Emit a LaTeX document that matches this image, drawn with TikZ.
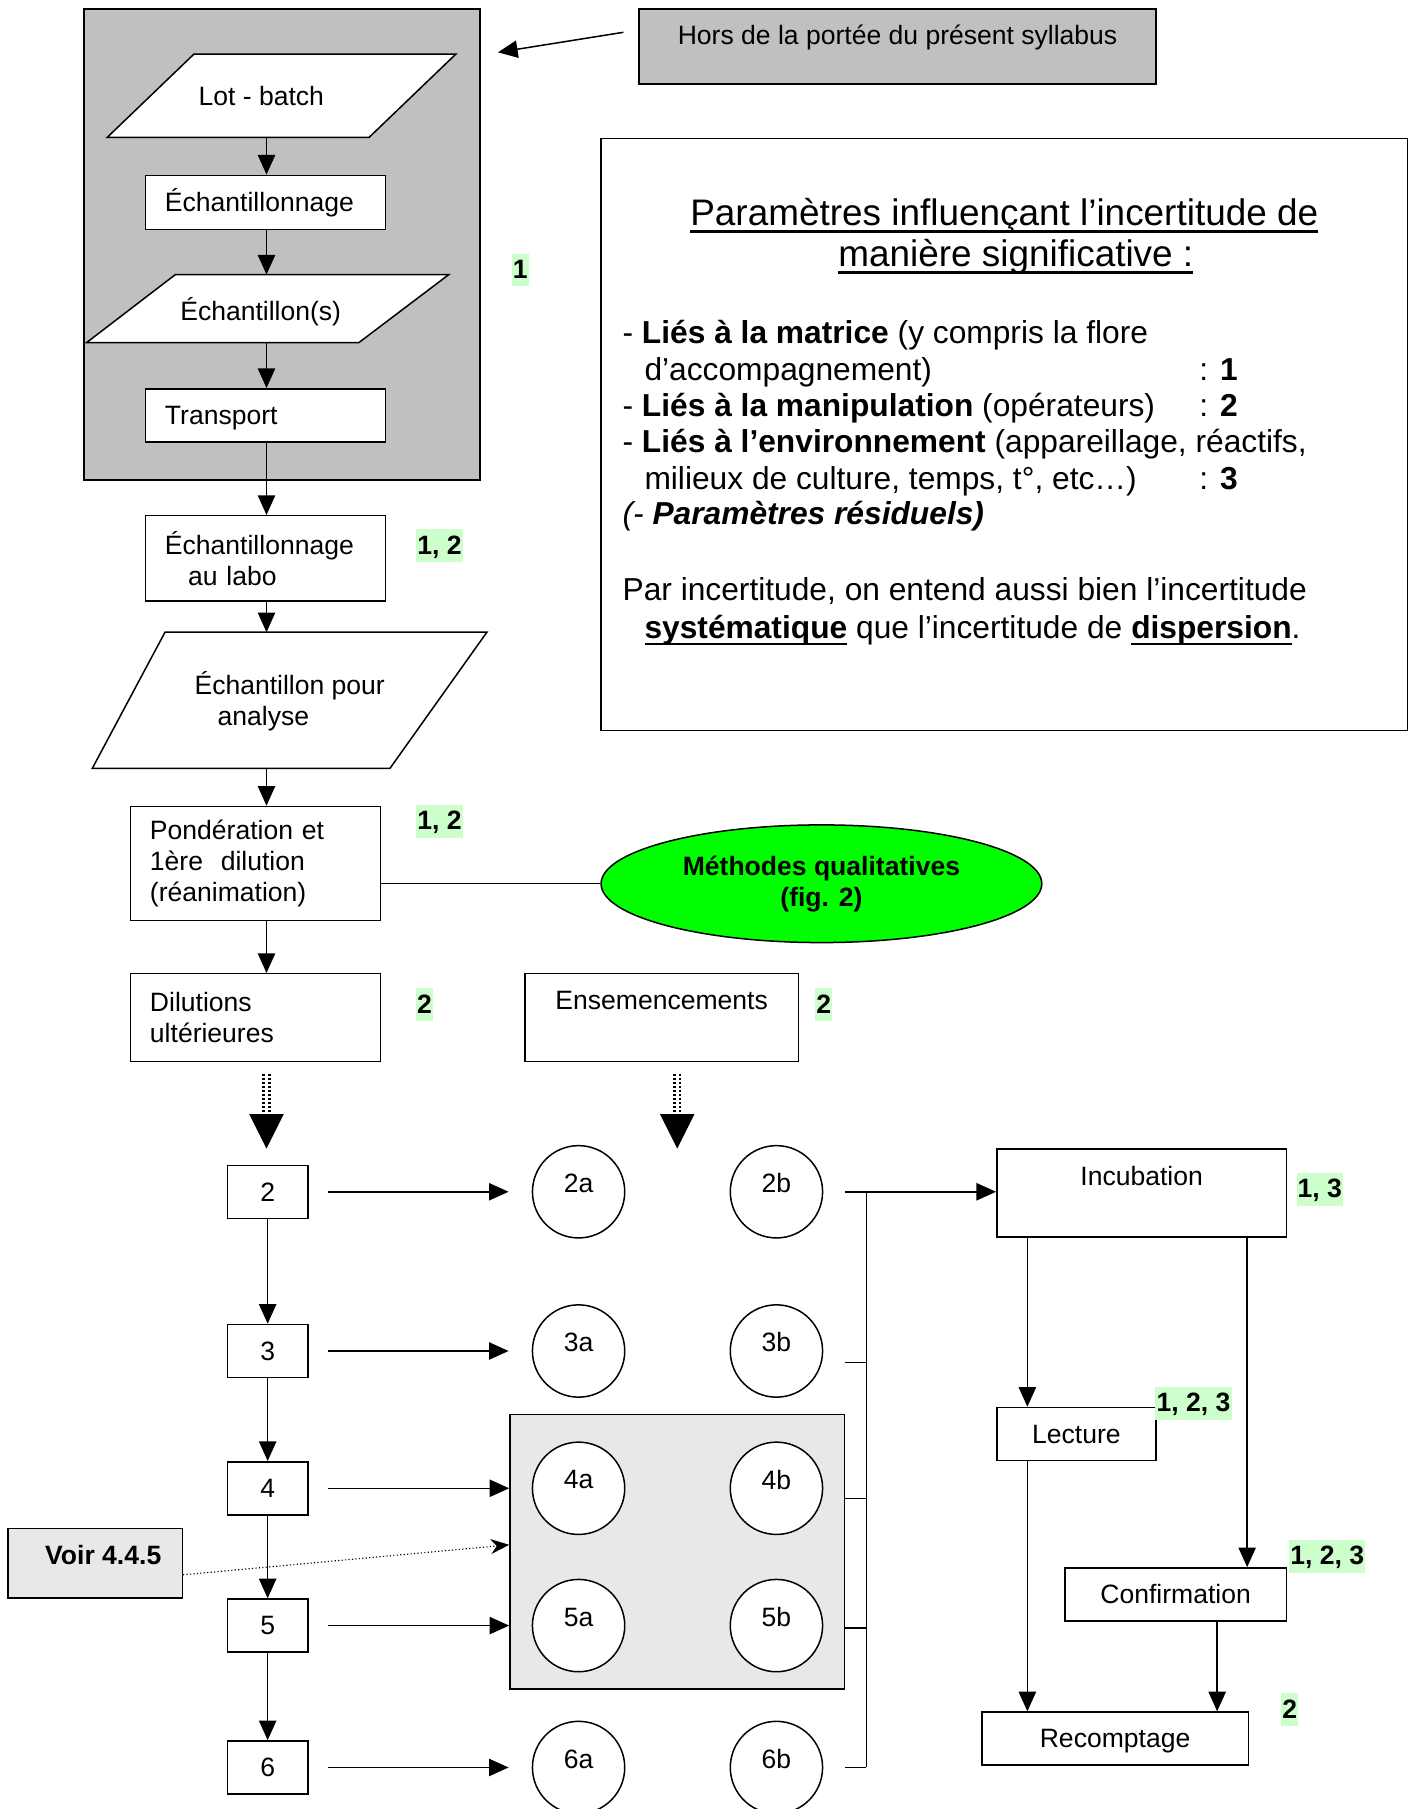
\documentclass[tikz,border=0pt]{standalone}
\usepackage{fontspec}
\setmainfont{Liberation Sans}
\usetikzlibrary{arrows.meta,shapes.geometric,calc}
\newcommand\fn{\fontsize{23}{27}\selectfont}
\newcommand\fb{\fontsize{27.5}{32}\selectfont}
\newcommand\ftt{\fontsize{32}{36}\selectfont}
\newcommand\myul[1]{\leavevmode\setbox0\hbox{#1}\rlap{\rule[-0.19em]{\wd0}{0.06em}}\box0\relax}
\definecolor{midgray}{HTML}{C0C0C0}
\definecolor{palegray}{HTML}{E8E8E8}
\definecolor{lgreen}{HTML}{CCFFCC}
\definecolor{brightgreen}{HTML}{00FF00}
\begin{document}
\begin{tikzpicture}[x=1pt,y=-1pt,line width=1.3pt,
  box/.style={draw,fill=white,inner xsep=17pt,inner ysep=0pt,align=left,font=\fn},
  cbox/.style={draw,fill=white,inner sep=0pt,align=center,font=\fn},
  topbox/.style={draw,inner sep=0pt,font=\fn,text height=17pt,text depth=30.5pt},
  para/.style={draw,fill=white,line join=miter},
  txt/.style={inner sep=0pt,font=\fn,align=left},
  lab/.style={fill=lgreen,font=\fn\bfseries,inner xsep=1pt,inner ysep=0pt,text height=21.5pt,text depth=7pt},
  circ/.style={circle,draw,fill=white,minimum size=80pt,inner sep=0pt,font=\fn,text depth=15pt},
  arr/.style={-{Triangle[length=17pt,width=15pt]}},
  tl/.style={anchor=base west,inner sep=0pt,font=\fb},
  dotcol/.style={line width=2.3pt,dash pattern=on 2pt off 1.5pt},
  ln/.style={line width=1.3pt}]
\useasboundingbox (0,0) rectangle (1222,1568);

% axes
\coordinate (ax1) at (231,0);
\coordinate (ax2) at (587,0);
\coordinate (lx) at (890.5,0);
\coordinate (rx) at (1081,0);
\coordinate (cx) at (1055,0);
\coordinate (bx) at (751,0);

% outer gray block
\node[draw,fill=midgray,minimum width=343pt,minimum height=408pt,inner sep=0pt] (outer) at (244.5,212) {};

% Hors box
\node[topbox,fill=midgray,minimum width=448pt,minimum height=65pt,text depth=21.5pt] (hors) at (778,40.5) {Hors de la portée du présent syllabus};
\coordinate (horstip) at ([xshift=15pt,yshift=-38pt]outer.north east);
\draw[arr] ([xshift=-13pt,yshift=12.5pt]hors.west) -- (horstip);

% Lot - batch
\draw[para] (168,47) -- (395,47) -- (320,119) -- (93,119) -- cycle;
\node[txt] (lot) at (226.5,83) {Lot - batch};
\coordinate (lotS) at (231,119);

\node[box,minimum width=208pt,minimum height=47pt,text width=174pt] (ech) at (230,175.5) {Échantillonnage};

\draw[para] (152,238) -- (389,238) -- (311,297) -- (75,297) -- cycle;
\node[txt] (echs) at (226,270) {Échantillon(s)};
\coordinate (echsN) at (231,238);
\coordinate (echsS) at (231,297);

\node[box,minimum width=208pt,minimum height=46pt,text width=174pt] (tra) at (230,360) {\raisebox{0pt}[\height][0pt]{Transport}};

\draw[arr] (lotS) -- (ech.north -| ax1);
\draw[arr] (ech.south -| ax1) -- (echsN);
\draw[arr] (echsS) -- (tra.north -| ax1);

\node[lab] (l1) at (451,234) {1};

% labo
\node[box,minimum width=208pt,minimum height=74pt,text width=174pt] (labo) at (230,484) {Échantillonnage\\\hspace*{20pt}au labo};
\draw[arr] (tra.south -| ax1) -- (labo.north -| ax1);
\node[lab] (l12a) at (381,473) {1, 2};

% analyse
\draw[para] (143,548) -- (422,548) -- (338,666) -- (80,666) -- cycle;
\node[txt,anchor=west] (ana) at (168,607.5) {Échantillon pour\\\hspace*{20pt}analyse};
\coordinate (anaN) at (231,548);
\coordinate (anaS) at (231,666);
\draw[arr] (labo.south -| ax1) -- (anaN);

% ponderation
\node[box,minimum width=217pt,minimum height=99pt,text width=183pt] (pond) at (221.5,748.5) {Pondération et\\1ère\ \ dilution\\(réanimation)};
\draw[arr] (anaS) -- (pond.north -| ax1);
\node[lab] (l12b) at (381,712) {1, 2};

\node[ellipse,draw,fill=brightgreen,minimum width=382pt,minimum height=102pt,inner sep=0pt,align=center,font=\fn\bfseries] (meth) at (712,766) {Méthodes qualitatives\\(fig. 2)};
\draw[ln] (meth.west -| pond.east) -- (meth.west);

% dilutions / ensemencements
\node[box,minimum width=217pt,minimum height=76pt,text width=183pt] (dil) at (221.5,882) {Dilutions\\ultérieures};
\draw[arr] (pond.south -| ax1) -- (dil.north -| ax1);
\node[lab] (l2a) at (368,871) {2};
\node[topbox,fill=white,minimum width=237pt,minimum height=76pt] (ens) at (573.5,882) {Ensemencements};
\node[lab] (l2b) at (714,871) {2};

% dotted big arrows
\coordinate (d1) at ($(dil.south -| ax1)+(0,10)$);
\draw[dotcol] ($(d1)+(-2.4,0)$) -- ++(0,35);
\draw[dotcol] ($(d1)+(2.4,0)$) -- ++(0,35);
\fill ($(d1)+(-15,35)$) -- ++(30,0) -- ++(-15,30) -- cycle;
\coordinate (d2) at ($(ens.south -| ax2)+(0,10)$);
\draw[dotcol] ($(d2)+(-2.4,0)$) -- ++(0,35);
\draw[dotcol] ($(d2)+(2.4,0)$) -- ++(0,35);
\fill ($(d2)+(-15,35)$) -- ++(30,0) -- ++(-15,30) -- cycle;

% light gray block
\node[draw,fill=palegray,minimum width=290pt,minimum height=238pt,inner sep=0pt] (gray) at (587,1345) {};

% dilution boxes
\node[cbox,minimum width=70pt,minimum height=46pt] (b2) at (232,1033) {2};
\node[cbox,minimum width=70pt,minimum height=46pt] (b3) at (232,1171) {3};
\node[cbox,minimum width=70pt,minimum height=46pt] (b4) at (232,1290) {4};
\node[cbox,minimum width=70pt,minimum height=46pt] (b5) at (232,1409) {5};
\node[cbox,minimum width=70pt,minimum height=46pt] (b6) at (232,1532) {6};
\draw[arr] (b2) -- (b3);
\draw[arr] (b3) -- (b4);
\draw[arr] (b4) -- (b5);
\draw[arr] (b5) -- (b6);

% circles
\node[circ] (c2a) at (501.5,1033) {2a};
\node[circ] (c2b) at (673,1033) {2b};
\node[circ] (c3a) at (501.5,1171) {3a};
\node[circ] (c3b) at (673,1171) {3b};
\node[circ] (c4a) at (501.5,1290) {4a};
\node[circ] (c4b) at (673,1290) {4b};
\node[circ] (c5a) at (501.5,1409) {5a};
\node[circ] (c5b) at (673,1409) {5b};
\node[circ] (c6a) at (501.5,1532) {6a};
\node[circ] (c6b) at (673,1532) {6b};

\draw[arr] ([xshift=17pt]b2.east) -- ([xshift=-20pt]c2a.west);
\draw[arr] ([xshift=17pt]b3.east) -- ([xshift=-20pt]c3a.west);
\draw[arr] ([xshift=17pt]b4.east) -- (gray.west |- b4.east);
\draw[arr] ([xshift=17pt]b5.east) -- (gray.west |- b5.east);
\draw[arr] ([xshift=17pt]b6.east) -- ([xshift=-20pt]c6a.west);

% Voir
\node[draw,fill=palegray,minimum width=151pt,minimum height=60pt,inner sep=0pt,font=\fn\bfseries,text height=17pt,text depth=14.5pt] (voir) at (82.5,1355) {\hspace*{14pt}Voir 4.4.5};
\draw[dotted,line width=1pt,-{Stealth[length=16pt,width=13pt]}] ([yshift=-10pt]voir.east) -- ([yshift=6pt]gray.west);

% right incubation branch
\node[topbox,fill=white,minimum width=251pt,minimum height=76pt] (inc) at (989.5,1034) {Incubation};
\node[lab] (l13) at (1144,1031) {1, 3};
\draw[ln] ([xshift=19pt]c2b.east) -- (c2b.east -| bx);
\draw[arr] (c2b.east -| bx) -- (inc.west |- c2b.east);
\draw[ln] ([xshift=19pt,yshift=-10pt]c3b.east) -- ([yshift=-10pt]c3b.east -| bx);
\draw[ln] ([xshift=19pt,yshift=-9pt]c4b.east) -- ([yshift=-9pt]c4b.east -| bx);
\draw[ln] ([xshift=19pt,yshift=-2pt]c5b.east) -- ([yshift=-2pt]c5b.east -| bx);
\draw[ln] ([xshift=19pt]c6b.east) -- (c6b.east -| bx);
\draw[ln] (c2b.east -| bx) -- (c6b.east -| bx);

\node[cbox,minimum width=138pt,minimum height=46pt] (lec) at (933,1243) {Lecture};
\node[lab] (l123a) at (1034.5,1216.5) {1, 2, 3};
\node[cbox,minimum width=192pt,minimum height=46pt] (conf) at (1019,1382) {Confirmation};
\node[lab] (l123b) at (1150.5,1349) {1, 2, 3};
\node[cbox,minimum width=231pt,minimum height=46pt] (rec) at (966.5,1507) {\raisebox{0pt}[\height][0pt]{Recomptage}};
\node[lab] (l2c) at (1118,1482) {2};

\draw[arr] (inc.south -| lx) -- (lec.north -| lx);
\draw[arr] (inc.south -| rx) -- (conf.north -| rx);
\draw[arr] (lec.south -| lx) -- (rec.north -| lx);
\draw[arr] (conf.south -| cx) -- (rec.north -| cx);

% info box
\node[draw,fill=white,minimum width=699pt,minimum height=513pt,inner sep=0pt] (info) at (870.5,376.5) {};
\node[anchor=base,inner sep=0pt,font=\ftt] (t1) at (870.5,195.5) {\myul{Paramètres influençant l’incertitude de}};
\node[anchor=base,inner sep=0pt,font=\ftt] (t2) at (880.5,231) {\myul{manière significative :}};
\node[tl] (p1) at (539,297.7) {- \textbf{Liés à la matrice} (y compris la flore};
\node[tl] (p2) at (558,329.5) {d’accompagnement)};
\node[tl] (p2n) at (1039,329.5) {: \textbf{1}};
\node[tl] (p3) at (539,361) {- \textbf{Liés à la manipulation} (opérateurs)};
\node[tl] (p3n) at (1039,361) {: \textbf{2}};
\node[tl] (p4) at (539,392.5) {- \textbf{Liés à l’environnement} (appareillage, réactifs,};
\node[tl] (p5) at (558,424) {milieux de culture, temps, t°, etc…)};
\node[tl] (p5n) at (1039,424) {: \textbf{3}};
\node[tl] (p6) at (539,455) {\textit{(- \textbf{Paramètres résiduels)}}};
\node[tl] (p7) at (539,520.6) {Par incertitude, on entend aussi bien l’incertitude};
\node[tl] (p8) at (558,553.8) {\myul{\textbf{systématique}} que l’incertitude de \myul{\textbf{dispersion}}.};
\end{tikzpicture}
\end{document}
